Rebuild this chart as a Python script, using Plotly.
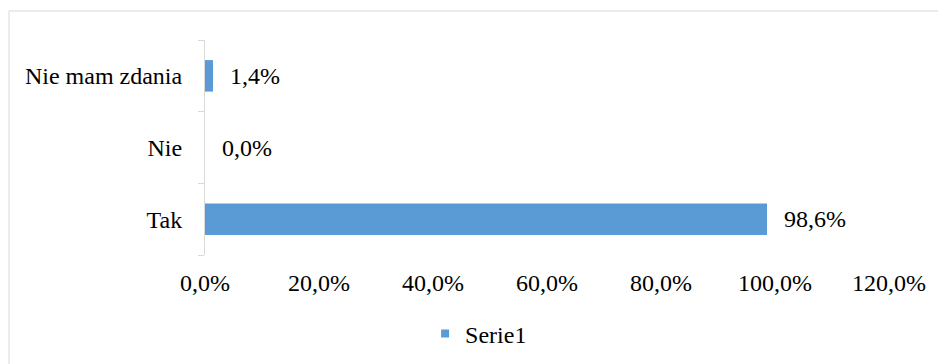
import plotly.graph_objects as go

categories = ["Tak", "Nie", "Nie mam zdania"]
values = [98.6, 0.0, 1.4]
series_name = "Serie1"
x_ticks = [0, 20, 40, 60, 80, 100, 120]

FONT = "Liberation Serif"
FS = 24
BAR_COLOR = "#5B9BD5"

def fmt(v):
    return f"{v:.1f}".replace(".", ",") + "%"

fig = go.Figure()
fig.add_trace(go.Bar(
    x=values, y=categories, orientation="h",
    marker=dict(color=BAR_COLOR, line=dict(width=0)),
    showlegend=False, name=series_name, width=0.44,
))
# legend entry with small square marker
fig.add_trace(go.Scatter(
    x=[None], y=[None], mode="markers", name=series_name,
    marker=dict(symbol="square", size=8, color=BAR_COLOR),
    showlegend=True,
))

annotations = []
for c, v in zip(categories, values):
    annotations.append(dict(
        x=v, y=c, xref="x", yref="y", text=fmt(v), showarrow=False,
        xanchor="left", yanchor="middle", xshift=15,
        font=dict(family=FONT, size=FS, color="#000000"),
    ))

fig.update_layout(
    width=946, height=364,
    margin=dict(l=197, r=65, t=32, b=117),
    paper_bgcolor="white", plot_bgcolor="white",
    font=dict(family=FONT, size=FS, color="#000000"),
    separators=",.",
    annotations=annotations,
    showlegend=True,
    legend=dict(orientation="h", x=0.4, xanchor="center", y=-0.367, yanchor="middle",
                font=dict(family=FONT, size=FS, color="#000000"),
                itemwidth=30, bgcolor="rgba(0,0,0,0)"),
    shapes=[dict(type="rect", xref="paper", yref="paper",
                 x0=-0.2865, x1=1.3, y0=-0.8, y1=1.1349,
                 line=dict(color="#d9d9d9", width=1), fillcolor="rgba(0,0,0,0)",
                 layer="below")],
)
fig.update_xaxes(
    range=[0, 120], tickvals=x_ticks, ticktext=[fmt(t) for t in x_ticks],
    showgrid=False, zeroline=False, showline=False, ticks="",
    ticklabelstandoff=11,
    tickfont=dict(family=FONT, size=FS, color="#000000"),
)
fig.update_yaxes(
    categoryorder="array", categoryarray=categories,
    showgrid=False, zeroline=False, showline=True, linecolor="#d9d9d9", linewidth=1,
    ticks="outside", tickson="boundaries", ticklen=6, tickcolor="#d9d9d9",
    ticklabelstandoff=17,
    tickfont=dict(family=FONT, size=FS, color="#000000"),
)

fig.write_html("out.html")
